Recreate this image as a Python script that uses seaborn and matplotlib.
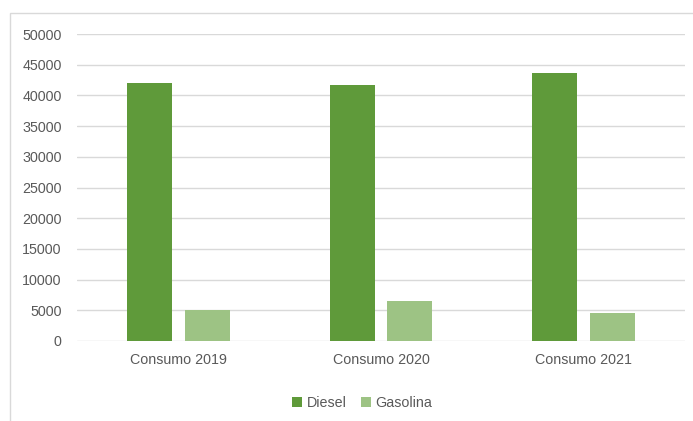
import pandas as pd
import matplotlib.pyplot as plt
from matplotlib.patches import Rectangle
import seaborn as sns

# datos
categorias = ['Consumo 2019', 'Consumo 2020', 'Consumo 2021']
diesel = [42000, 41750, 43700]
gasolina = [5050, 6500, 4600]
series = ['Diesel', 'Gasolina']
ticks_y = [0, 5000, 10000, 15000, 20000, 25000, 30000, 35000, 40000, 45000, 50000]

df = pd.DataFrame({
    'categoria': categorias * 2,
    'serie': ['Diesel'] * 3 + ['Gasolina'] * 3,
    'valor': diesel + gasolina,
})

sns.set_style('white')
plt.rcParams['font.family'] = ['Liberation Sans', 'DejaVu Sans']

fig = plt.figure(figsize=(6.93, 4.21), dpi=100)
ax = fig.add_axes([77 / 693, 1 - 341 / 421, 608 / 693, 307 / 421])

sns.barplot(data=df, x='categoria', y='valor', hue='serie', hue_order=series,
            palette=['#5f9a3a', '#9dc384'], width=0.567, gap=0.217,
            saturation=1, linewidth=0, ax=ax, legend=True)

ax.set_ylim(0, 50000)
ax.set_yticks(ticks_y)
ax.set_xlim(-0.5, 2.5)
ax.grid(axis='y', color='#d9d9d9', linewidth=1)
ax.set_axisbelow(True)
for s in ax.spines.values():
    s.set_visible(False)
ax.tick_params(axis='both', length=0, labelsize=10.3, labelcolor='#595959')
ax.tick_params(axis='y', pad=11)
ax.tick_params(axis='x', pad=9)
ax.set_xlabel('')
ax.set_ylabel('')

leg = ax.legend(loc='center', bbox_to_anchor=(362 / 693, 1 - 403 / 421),
                bbox_transform=fig.transFigure, ncol=2, frameon=False,
                fontsize=10.3, handlelength=0.7, handleheight=0.7,
                handletextpad=0.3, columnspacing=1.0)
for t in leg.get_texts():
    t.set_color('#595959')

# marco del gráfico
fig.patches.append(Rectangle((10 / 693, -0.05), 1.0, 1 - 13 / 421 + 0.05,
                             transform=fig.transFigure, fill=False,
                             edgecolor='#d9d9d9', linewidth=1))

fig.savefig('out.png', dpi=100)
